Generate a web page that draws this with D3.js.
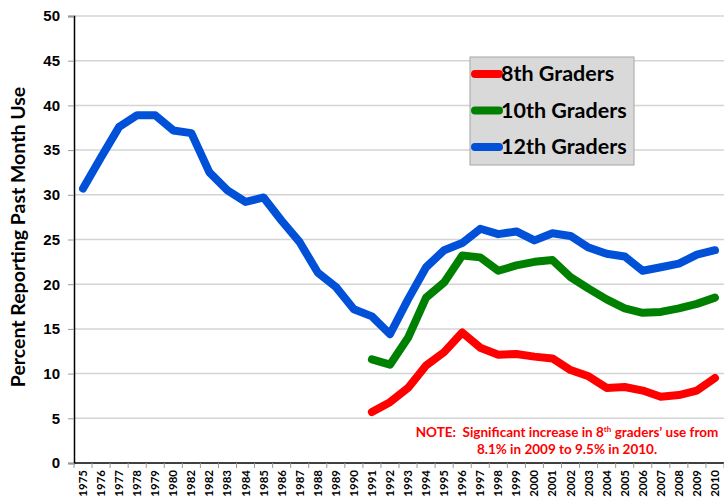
<!DOCTYPE html>
<html>
<head>
<meta charset="utf-8">
<script src="https://cdn.jsdelivr.net/npm/d3@7"></script>
<style>
  body { margin: 0; background: #fff; }
  svg { display: block; font-family: Lato, "Open Sans", sans-serif; }
</style>
</head>
<body>
<svg id="chart" width="724" height="504"></svg>
<script>
// Year labels as printed on the original (note the repeated 1982)
const yearLabels = ['1975','1976','1977','1978','1979','1980','1982','1982','1983','1984','1985','1986','1987','1988','1989','1990',
  '1991','1992','1993','1994','1995','1996','1997','1998','1999','2000','2001','2002','2003','2004','2005','2006','2007','2008','2009','2010'];

const grade12 = [30.7, 34.2, 37.6, 38.9, 38.9, 37.2, 36.9, 32.5, 30.5, 29.2, 29.7, 27.1, 24.7, 21.3, 19.7, 17.2,
  16.4, 14.4, 18.3, 21.9, 23.8, 24.6, 26.2, 25.6, 25.9, 24.9, 25.7, 25.4, 24.1, 23.4, 23.1, 21.5, 21.9, 22.3, 23.3, 23.8];
// 8th and 10th start in 1991 (index 16)
const grade10 = [11.6, 11.0, 14.0, 18.5, 20.2, 23.2, 23.0, 21.5, 22.1, 22.5, 22.7, 20.8, 19.5, 18.3, 17.3, 16.8, 16.9, 17.3, 17.8, 18.5];
const grade8 = [5.7, 6.8, 8.4, 10.9, 12.4, 14.6, 12.9, 12.1, 12.2, 11.9, 11.7, 10.4, 9.7, 8.4, 8.5, 8.1, 7.4, 7.6, 8.1, 9.5];

const yTicks = [0, 5, 10, 15, 20, 25, 30, 35, 40, 45, 50];

const series = [
  { name: '8th Graders', color: '#ff0000', start: 16, values: grade8 },
  { name: '10th Graders', color: '#008000', start: 16, values: grade10 },
  { name: '12th Graders', color: '#0050d8', start: 0, values: grade12 }
];

const svg = d3.select('#chart');
const margin = { top: 16, right: 0, bottom: 41, left: 74 };
const width = 724 - margin.left - margin.right;
const height = 504 - margin.top - margin.bottom;

const plot = svg.append('g')
  .attr('transform', `translate(${margin.left}, ${margin.top})`);

const xScale = d3.scaleBand()
  .domain(d3.range(yearLabels.length))
  .range([0, width]);

const yScale = d3.scaleLinear()
  .domain([0, 50])
  .range([height, 0]);

// Gridlines
plot.append('g')
  .selectAll('line')
  .data(yTicks.filter(d => d > 0))
  .join('line')
  .attr('x1', 0)
  .attr('x2', width)
  .attr('y1', d => yScale(d))
  .attr('y2', d => yScale(d))
  .attr('stroke', '#d4d4d4')
  .attr('stroke-width', 1.5);

// Y axis
const yAxis = plot.append('g')
  .call(d3.axisLeft(yScale).tickValues(yTicks).tickSize(6).tickPadding(8));
yAxis.select('.domain').attr('stroke', '#000').attr('stroke-width', 1.5);
yAxis.selectAll('.tick line').attr('stroke', '#999');
yAxis.selectAll('.tick text')
  .attr('font-size', 15)
  .attr('font-weight', 'bold')
  .attr('fill', '#000');

// X axis: ticks at category boundaries
const xAxisG = plot.append('g')
  .attr('transform', `translate(0, ${height})`);
xAxisG.append('line')
  .attr('x1', 0).attr('x2', width)
  .attr('stroke', '#000').attr('stroke-width', 1.5);
xAxisG.selectAll('.xtick')
  .data(d3.range(yearLabels.length + 1))
  .join('line')
  .attr('class', 'xtick')
  .attr('x1', d => d * xScale.step())
  .attr('x2', d => d * xScale.step())
  .attr('y1', 0).attr('y2', 5)
  .attr('stroke', '#999');
xAxisG.selectAll('.xlabel')
  .data(yearLabels)
  .join('text')
  .attr('class', 'xlabel')
  .attr('transform', (d, i) => `translate(${xScale(i) + xScale.bandwidth() / 2 + 4}, 7) rotate(-90)`)
  .attr('text-anchor', 'end')
  .attr('font-size', 11.5)
  .attr('font-weight', 'bold')
  .text(d => d);

// Lines
const line = d3.line()
  .x(d => xScale(d.i) + xScale.bandwidth() / 2)
  .y(d => yScale(d.v));

series.forEach(s => {
  const pts = s.values.map((v, k) => ({ i: s.start + k, v }));
  plot.append('path')
    .datum(pts)
    .attr('d', line)
    .attr('fill', 'none')
    .attr('stroke', s.color)
    .attr('stroke-width', 8)
    .attr('stroke-linejoin', 'round')
    .attr('stroke-linecap', 'round');
});

// Y axis label
svg.append('text')
  .attr('transform', 'translate(25, 237) rotate(-90)')
  .attr('text-anchor', 'middle')
  .attr('font-size', 19.5)
  .attr('font-weight', 'bold')
  .text('Percent Reporting Past Month Use');

// Legend
const legend = svg.append('g').attr('transform', 'translate(470, 57)');
legend.append('rect')
  .attr('width', 164).attr('height', 108)
  .attr('fill', '#d9d9d9')
  .attr('stroke', '#a6a6a6');
series.forEach((s, i) => {
  const y = 17 + i * 36.5;
  legend.append('line')
    .attr('x1', 5).attr('x2', 29)
    .attr('y1', y).attr('y2', y)
    .attr('stroke', s.color)
    .attr('stroke-width', 8)
    .attr('stroke-linecap', 'round');
  legend.append('text')
    .attr('x', 31).attr('y', y + 7)
    .attr('font-size', 21.5)
    .attr('font-weight', 'bold')
    .text(s.name);
});

// Note
const note = svg.append('text')
  .attr('text-anchor', 'middle')
  .attr('font-size', 13.5)
  .attr('font-weight', 'bold')
  .attr('fill', '#ff0000')
  .style('white-space', 'pre');
const l1 = note.append('tspan').attr('x', 567).attr('y', 437);
l1.append('tspan').text('NOTE:\u00a0 Significant increase in 8');
l1.append('tspan').attr('font-size', 8).attr('dy', -5).text('th');
l1.append('tspan').attr('dy', 5).text(' graders\u2019 use from');
note.append('tspan').attr('x', 567).attr('y', 454).text('8.1% in 2009 to 9.5% in 2010.');
</script>
</body>
</html>
